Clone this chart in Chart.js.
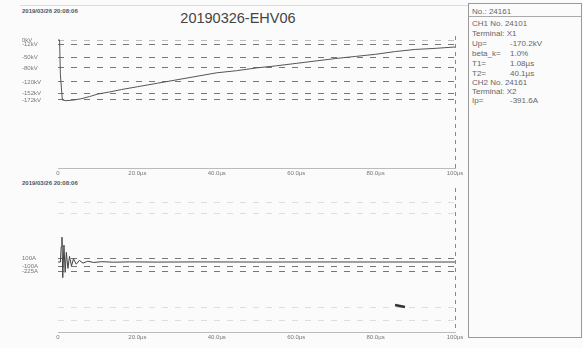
<!DOCTYPE html>
<html><head><meta charset="utf-8">
<script src="https://cdn.jsdelivr.net/npm/chart.js@4/dist/chart.umd.min.js"></script>
<style>
html,body{margin:0;padding:0;background:#fbfbfb;width:583px;height:348px;overflow:hidden;font-family:"Liberation Sans",Arial,sans-serif;}
#top{position:absolute;left:0;top:0;}
#bot{position:absolute;left:0;top:176px;}
.hdr{position:absolute;font-size:6px;font-weight:bold;color:#555;white-space:nowrap;}
#title{position:absolute;left:130px;width:216px;top:10px;text-align:center;font-size:14.5px;color:#444;}
#frame{position:absolute;left:20px;top:5px;width:448px;height:0;border-top:1px solid #ddd;}
#info{position:absolute;left:468px;top:3px;width:112px;height:333px;border:1px solid #999;font-size:8px;color:#666;}
#info .r{position:absolute;left:3px;white-space:nowrap;}
#info .v{position:absolute;left:38px;}
#sep{position:absolute;left:0;top:12px;width:112px;border-top:1px solid #aaa;}
</style></head>
<body>
<div id="frame"></div>
<div class="hdr" style="left:22px;top:8px;">2019/03/26 20:08:06</div>
<div id="title">20190326-EHV06</div>
<div class="hdr" style="left:22px;top:180px;">2019/03/26 20:08:06</div>
<canvas id="top" width="466" height="180"></canvas>
<canvas id="bot" width="466" height="172"></canvas>
<div id="info"></div>
<script>
// ---- data ----
const timeTicks = [0, 20, 40, 60, 80, 100];
const timeTickLabels = ['0', '20.0µs', '40.0µs', '60.0µs', '80.0µs', '100µs'];

const voltTime = [0, 0.4, 0.6, 1.1, 2, 4, 6, 8, 10, 13, 16, 20, 25, 30, 35, 40, 45, 50, 55, 60, 65, 70, 75, 80, 85, 90, 95, 100];
const voltKV   = [0, 0, -100, -172, -174, -172, -168, -162, -155, -149, -142, -134, -124, -114, -104, -94, -88, -80, -74, -67, -60, -53, -47, -41, -33, -27, -24, -20];
const voltTicks = [0, -12, -50, -80, -120, -152, -172];
const voltTickLabels = ['0kV', '-12kV', '-50kV', '-80kV', '-120kV', '-152kV', '-172kV'];

const currTime = [0, 0.6, 0.8, 1.0, 1.2, 1.5, 1.8, 2.1, 2.5, 2.9, 3.4, 3.9, 4.6, 5.4, 6.3, 7.5, 9, 11, 14, 18, 25, 35, 50, 65, 80, 100];
const currA    = [0, 0, 380, 620, -390, 420, -260, 240, -160, 140, -100, 80, -55, 40, -28, 20, -12, 8, -5, 3, -2, 2, -1, 1, 0, 0];
const currTicks = [1475, 1225, 100, -100, -225, -1125, -1450];
const currTickLabels = ['', '', '100A', '-100A', '-225A', '', ''];
const markTime = [84.9, 87.4];
const markA = [-1075, -1125];

const infoLines = [
  ['No.: 24161', ''],
  ['CH1  No. 24101', ''],
  ['Terminal: X1', ''],
  ['Up=', '-170.2kV'],
  ['beta_k=', '1.0%'],
  ['T1=', '1.08µs'],
  ['T2=', '40.1µs'],
  ['CH2  No. 24161', ''],
  ['Terminal: X2', ''],
  ['Ip=', '-391.6A']
];
// ---- info box ----
const info = document.getElementById('info');
const rowTops = [3, 15, 25, 35, 45, 55, 65, 74, 83, 92];
infoLines.forEach((l, i) => {
  const d = document.createElement('div');
  d.className = 'r'; d.style.top = rowTops[i] + 'px';
  d.textContent = l[0];
  if (l[1]) { const s = document.createElement('span'); s.className = 'v'; s.textContent = l[1]; d.appendChild(s); }
  info.appendChild(d);
});
const sep = document.createElement('div'); sep.id = 'sep'; info.appendChild(sep);

Chart.defaults.font.family = '"Liberation Sans", Arial, sans-serif';
Chart.defaults.font.size = 6;
Chart.defaults.color = '#777';

function xScale() {
  return {
    type: 'linear', min: 0, max: 100,
    afterBuildTicks: s => { s.ticks = timeTicks.map(v => ({ value: v })); },
    afterFit: s => { s.height = 10; },
    ticks: { padding: 2, maxRotation: 0, autoSkip: false, callback: (v, i) => timeTickLabels[i] },
    grid: { drawTicks: false, color: c => (c.tick && c.tick.value === 100) ? '#888' : 'rgba(0,0,0,0)' },
    border: { display: true, color: '#bbb', dash: [4, 4] }
  };
}
function yScale(min, max, ticks, labels, gridColor) {
  return {
    min, max,
    afterBuildTicks: s => { s.ticks = ticks.map(v => ({ value: v })); },
    afterFit: s => { s.width = 36; },
    ticks: { padding: 4, crossAlign: 'far', autoSkip: false, callback: (v, i) => labels[i] },
    grid: { drawTicks: false, color: gridColor, lineWidth: 1 },
    border: { display: false, dash: [6, 7] }
  };
}
const common = { responsive: false, animation: false, devicePixelRatio: 1,
  plugins: { legend: { display: false }, tooltip: { enabled: false } } };

new Chart(document.getElementById('top'), {
  type: 'line',
  data: { datasets: [{
    data: voltTime.map((t, i) => ({ x: t, y: voltKV[i] })),
    borderColor: '#555', borderWidth: 1, pointRadius: 0, tension: 0 }] },
  options: Object.assign({}, common, {
    layout: { padding: { top: 36, right: 11, bottom: 2, left: 22 } },
    scales: { x: xScale(), y: yScale(-367, 11.5, voltTicks, voltTickLabels, c => c.index === 0 ? '#bbb' : '#777') }
  })
});

new Chart(document.getElementById('bot'), {
  type: 'line',
  data: { datasets: [
    { data: currTime.map((t, i) => ({ x: t, y: currA[i] })),
      borderColor: '#444', borderWidth: 1, pointRadius: 0, tension: 0 },
    { data: markTime.map((t, i) => ({ x: t, y: markA[i] })),
      borderColor: '#333', borderWidth: 2.5, pointRadius: 0, tension: 0 }
  ] },
  options: Object.assign({}, common, {
    layout: { padding: { top: 12, right: 11, bottom: 6, left: 22 } },
    scales: { x: xScale(), y: yScale(-1750, 1850, currTicks, currTickLabels,
      c => (c.tick && Math.abs(c.tick.value) > 500) ? '#ddd' : '#777') }
  })
});
</script>
</body></html>
